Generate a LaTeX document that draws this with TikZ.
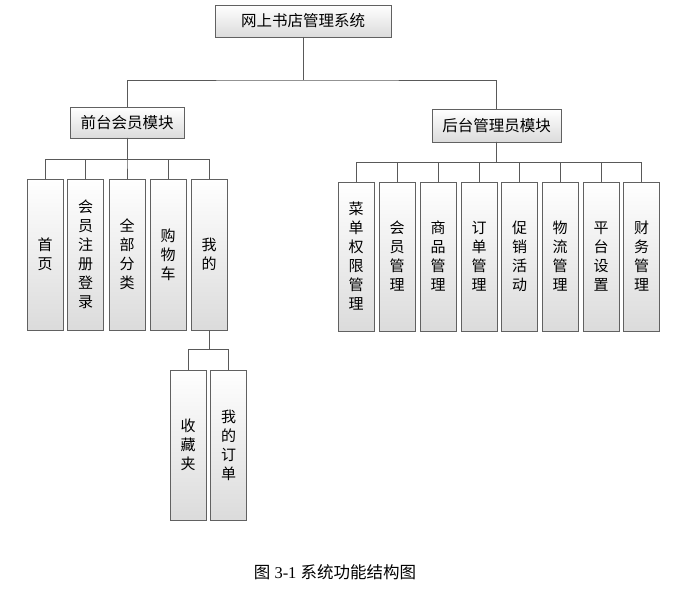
\documentclass[tikz,border=0pt]{standalone}
\usepackage{fontspec}
\setmainfont{Liberation Serif}
\newfontfamily\cjk{Noto Sans CJK SC}
\begin{document}
\begin{tikzpicture}[x=1pt,y=-1pt,
  box/.style={draw=black!62, line width=0.8pt, top color=white, bottom color=black!14,
    inner sep=0pt, outer sep=0pt, align=center},
  hbox/.style={box, font=\cjk\fontsize{15.5}{19}\selectfont},
  vbox/.style={box, minimum width=36pt, font=\cjk\fontsize{15}{19}\selectfont},
  conn/.style={draw=black!65, line width=0.8pt}]
\useasboundingbox (0,0) rectangle (688,599);
% top
\node[hbox, minimum width=176pt, minimum height=32pt] (top) at (303,21) {网上书店管理系统};
\node[hbox, minimum width=114pt, minimum height=31pt] (fm) at (127,122.5) {前台会员模块};
\node[hbox, minimum width=129pt, minimum height=33pt] (bm) at (496.5,125.5) {后台管理员模块};
% front children
\foreach \n/\x/\t in {f1/45/{首\\页}, f2/85.5/{会\\员\\注\\册\\登\\录}, f3/127/{全\\部\\分\\类}, f4/168/{购\\物\\车}, f5/209/{我\\的}}
  \node[vbox, minimum height=151pt] (\n) at (\x,254.5) {\t};
% back children
\foreach \n/\x/\t in {b1/356/{菜\\单\\权\\限\\管\\理}, b2/397/{会\\员\\管\\理}, b3/438/{商\\品\\管\\理}, b4/479/{订\\单\\管\\理}, b5/519.5/{促\\销\\活\\动}, b6/560/{物\\流\\管\\理}, b7/601/{平\\台\\设\\置}, b8/641.5/{财\\务\\管\\理}}
  \node[vbox, minimum height=149pt] (\n) at (\x,256.5) {\t};
% sub children
\node[vbox, minimum height=150pt] (m1) at (188,445) {收\\藏\\夹};
\node[vbox, minimum height=150pt] (m2) at (228.5,445) {我\\的\\订\\单};
% connectors
\coordinate (j0) at (top.south |- 0,80);
\draw[conn] (top.south) -- (j0);
\draw[conn] (fm.north) |- (j0) -| (bm.north);
\foreach \c in {f1,f2,f3,f4,f5}
  \draw[conn] (fm.south) -- ++(0,21) -| (\c.north);
\foreach \c in {b1,b2,b3,b4,b5,b6,b7,b8}
  \draw[conn] (bm.south) -- ++(0,20) -| (\c.north);
\foreach \c in {m1,m2}
  \draw[conn] (f5.south) -- ++(0,19) -| (\c.north);
% caption
\node[font=\fontsize{16.5}{18}\selectfont, inner sep=0pt] (cap) at (335,572) {{\cjk 图} 3-1 {\cjk 系统功能结构图}};
\end{tikzpicture}
\end{document}
